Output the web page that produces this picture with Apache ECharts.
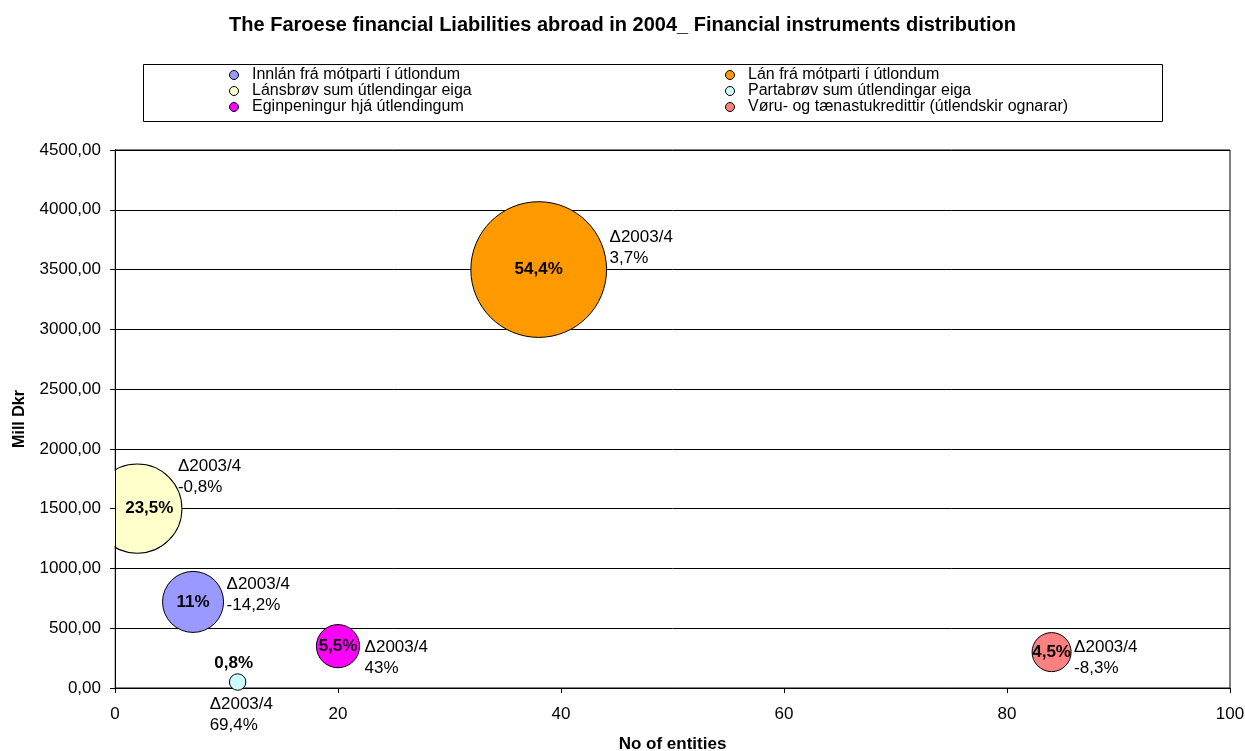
<!DOCTYPE html>
<html><head><meta charset="utf-8">
<script src="https://cdn.jsdelivr.net/npm/echarts/dist/echarts.min.js"></script>
<style>html,body{margin:0;padding:0;background:#fff}#c{width:1245px;height:751px}</style>
</head><body><div id="c"></div>
<script>
// ---- data ----
const seriesNames = [
  'Innlán frá mótparti í útlondum',
  'Lán frá mótparti í útlondum',
  'Lánsbrøv sum útlendingar eiga',
  'Partabrøv sum útlendingar eiga',
  'Eginpeningur hjá útlendingum',
  'Vøru- og tænastukredittir (útlendskir ognarar)'
];
const entities = [7, 38, 2, 11, 20, 84];
const amounts = [720, 3500, 1500, 50, 350, 300];
const shares = [11, 54.4, 23.5, 0.8, 5.5, 4.5];
const shareLabels = ['11%', '54,4%', '23,5%', '0,8%', '5,5%', '4,5%'];
const deltaTitle = 'Δ2003/4';
const deltaLabels = ['-14,2%', '3,7%', '-0,8%', '69,4%', '43%', '-8,3%'];
const chartTitle = 'The Faroese financial Liabilities abroad in 2004_ Financial instruments distribution';
const xName = 'No of entities';
const yName = 'Mill Dkr';

// ---- styles ----
const colors = ['#9999FF', '#FF9900', '#FFFFCC', '#CCFFFF', '#FF00FF', '#FF8080'];
const fontFamily = "'Liberation Sans', Arial, sans-serif";
const sizeOf = s => Math.sqrt(s) * 18.4;
const shareLayout = [
  {position: 'inside'},
  {position: 'inside'},
  {position: 'inside', offset: [12, 0]},
  {position: 'top', distance: 1, offset: [-4, 0]},
  {position: 'inside'},
  {position: 'inside'}
];
const deltaLayout = [
  {position: 'right', distance: 3, offset: [0, -7]},
  {position: 'right', distance: 3, offset: [0, -22]},
  {position: 'right', distance: -4, offset: [0, -32]},
  {position: 'bottom', distance: 4, offset: [-28, 0], align: 'left'},
  {position: 'right', distance: 5, offset: [0, 12]},
  {position: 'right', distance: 3, offset: [0, 6]}
];

const chart = echarts.init(document.getElementById('c'), null, {renderer: 'canvas'});

const bubbleSeries = seriesNames.map((n, i) => ({
  name: n, type: 'scatter', xAxisIndex: 0, yAxisIndex: 0, z: 2,
  data: [[entities[i], amounts[i], shares[i]]],
  symbol: 'circle',
  symbolSize: d => sizeOf(d[2]),
  itemStyle: {color: colors[i], borderColor: '#000', borderWidth: 1, opacity: 1},
  emphasis: {disabled: true},
  label: Object.assign({show: true, formatter: shareLabels[i], color: '#000',
    fontWeight: 'bold', fontSize: 17, fontFamily: fontFamily}, shareLayout[i]),
  animation: false
}));

const deltaSeries = {
  name: 'delta', type: 'scatter', xAxisIndex: 0, yAxisIndex: 0, z: 5, silent: true,
  data: seriesNames.map((n, i) => ({value: [entities[i], amounts[i], shares[i]], label: Object.assign({}, deltaLayout[i])})),
  symbol: 'circle',
  symbolSize: d => sizeOf(d[2]),
  itemStyle: {color: 'rgba(0,0,0,0)', borderWidth: 0},
  emphasis: {disabled: true},
  label: {show: true, formatter: p => deltaTitle + '\n' + deltaLabels[p.dataIndex],
    color: '#000', opacity: 1, fontSize: 17, lineHeight: 21, fontFamily: fontFamily},
  animation: false
};

const yFmt = v => v.toFixed(2).replace('.', ',');

const option = {
  animation: false,
  backgroundColor: '#fff',
  title: {text: chartTitle, left: 'center', top: 10,
    textStyle: {fontSize: 20, fontWeight: 'bold', fontFamily: fontFamily, color: '#000'}},
  legend: {
    data: seriesNames, left: 229, top: 67, width: 1020, orient: 'horizontal',
    itemWidth: 26, itemHeight: 9, itemGap: 0, icon: 'circle', padding: 0,
    selectedMode: false,
    itemStyle: {borderColor: '#000', borderWidth: 1},
    textStyle: {fontSize: 16, lineHeight: 15, width: 473, fontFamily: fontFamily, color: '#000'}
  },
  grid: {left: 115, right: 15, top: 150, bottom: 63, show: true,
    borderColor: '#000', borderWidth: 1, backgroundColor: 'transparent',
    containLabel: false, outerBoundsMode: 'none'},
  xAxis: {
    type: 'value', min: 0, max: 100, interval: 20,
    name: xName, nameLocation: 'middle', nameGap: 48,
    nameTextStyle: {fontSize: 17, fontWeight: 'bold', fontFamily: fontFamily, color: '#000'},
    axisLine: {show: true, lineStyle: {color: '#000', width: 1}},
    axisTick: {show: true, inside: false, length: 5, lineStyle: {color: '#000'}},
    axisLabel: {fontSize: 17, fontFamily: fontFamily, color: '#000', margin: 18},
    splitLine: {show: false}
  },
  yAxis: [{
    type: 'value', min: 0, max: 4500, interval: 500, z: 0,
    axisLine: {show: true, lineStyle: {color: '#000'}},
    axisTick: {show: false},
    axisLabel: {show: false},
    splitLine: {show: true, lineStyle: {color: '#000', width: 1}}
  }, {
    type: 'value', min: 0, max: 4500, interval: 500, z: 10, position: 'left',
    name: yName, nameLocation: 'middle', nameGap: 87, nameRotate: 90,
    nameTextStyle: {fontSize: 16, fontWeight: 'bold', fontFamily: fontFamily, color: '#000'},
    axisLine: {show: true, lineStyle: {color: '#000', width: 1}},
    axisTick: {show: true, inside: false, length: 5, lineStyle: {color: '#000'}},
    axisLabel: {fontSize: 17, fontFamily: fontFamily, color: '#000', margin: 14, formatter: yFmt},
    splitLine: {show: false}
  }],
  graphic: {elements: [
    {type: 'rect', silent: true, z: 3, shape: {x: 0, y: 140, width: 114.5, height: 560}, style: {fill: '#fff'}},
    {type: 'rect', silent: true, z: 3, shape: {x: 143.5, y: 64.5, width: 1019, height: 57}, style: {fill: 'none', stroke: '#000', lineWidth: 1}}
  ]},
  series: bubbleSeries.concat([deltaSeries])
};
chart.setOption(option);
</script>
</body></html>
